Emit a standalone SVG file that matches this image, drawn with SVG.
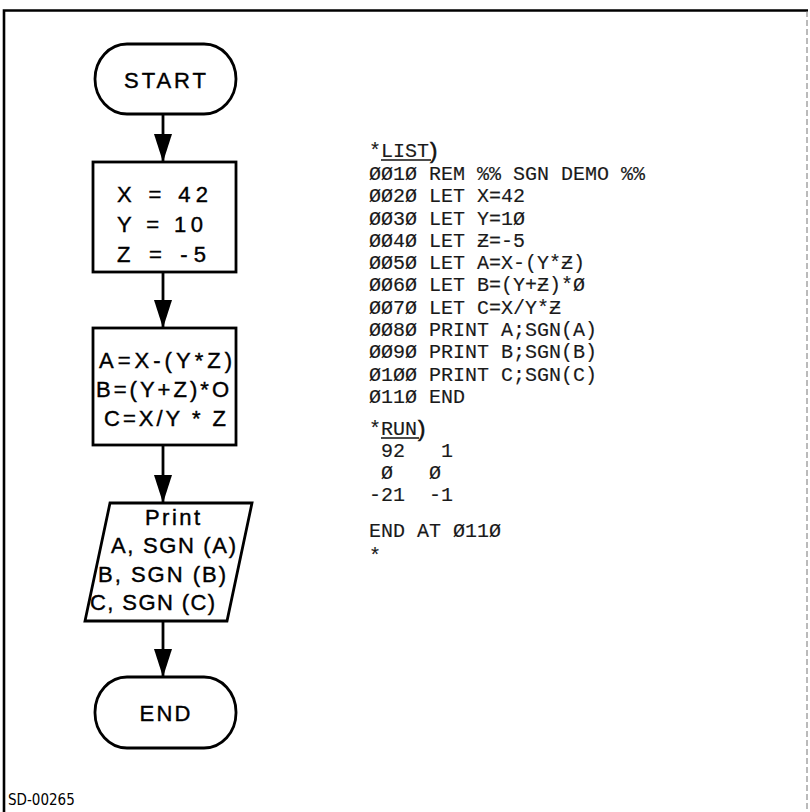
<svg xmlns="http://www.w3.org/2000/svg" width="810" height="812" viewBox="0 0 810 812">
<defs>
<marker id="ah" markerWidth="28" markerHeight="18" refX="28" refY="9" orient="auto" markerUnits="userSpaceOnUse" viewBox="0 0 28 18">
<path d="M0,0 L28,9 L0,18 Z" fill="#000"/>
</marker>
<style>
.sh{fill:#fff;stroke:#000;stroke-width:2.8}
.fl{font-family:"Liberation Sans",Arial,sans-serif;font-size:22px;fill:#000;stroke:#000;stroke-width:0.4;text-anchor:middle}
.fs{text-anchor:start}
.cd{font-family:"Liberation Mono","Courier New",monospace;font-size:20px;fill:#1a1a1a;stroke:#1a1a1a;stroke-width:0.15}
.pr{font-family:"Liberation Sans",Arial,sans-serif;font-size:22px;fill:#111;stroke:#111;stroke-width:0.6}
.cn{stroke:#000;stroke-width:2.8;fill:none}
</style>
</defs>
<rect width="810" height="812" fill="#fff"/>
<g id="frame">
<path d="M4,812 L4,10.5 L808,10.5" fill="none" stroke="#000" stroke-width="2.6"/>
<line x1="807" y1="11" x2="807" y2="812" stroke="#777" stroke-width="1" stroke-dasharray="6 3"/>
</g>
<g id="connectors">
<line class="cn" x1="163" y1="114" x2="163" y2="162" marker-end="url(#ah)"/>
<line class="cn" x1="163" y1="272" x2="163" y2="328" marker-end="url(#ah)"/>
<line class="cn" x1="163" y1="445" x2="163" y2="503" marker-end="url(#ah)"/>
<line class="cn" x1="163" y1="621" x2="163" y2="677" marker-end="url(#ah)"/>
</g>
<g id="start">
<rect class="sh" x="95" y="44" width="141" height="70" rx="32" ry="35"/>
<text class="fl" x="165" y="88" textLength="82" lengthAdjust="spacing">START</text>
</g>
<g id="assign">
<rect class="sh" x="93" y="162" width="143" height="110"/>
<text class="fl fs" x="117" y="202" textLength="91" lengthAdjust="spacing">X = 42</text>
<text class="fl fs" x="117" y="232" textLength="86" lengthAdjust="spacing">Y = 10</text>
<text class="fl fs" x="117" y="262" textLength="89" lengthAdjust="spacing">Z = -5</text>
</g>
<g id="compute">
<rect class="sh" x="93" y="328" width="143" height="117"/>
<text class="fl fs" x="99" y="368" textLength="133" lengthAdjust="spacing">A=X-(Y*Z)</text>
<text class="fl fs" x="96" y="397" textLength="133" lengthAdjust="spacing">B=(Y+Z)*O</text>
<text class="fl fs" x="104" y="426" textLength="122" lengthAdjust="spacing">C=X/Y * Z</text>
</g>
<g id="print">
<path class="sh" d="M110,503 L252,503 L227,621 L85,621 Z"/>
<text class="fl fs" x="145" y="525" textLength="55" lengthAdjust="spacing">Print</text>
<text class="fl fs" x="111" y="553" textLength="125" lengthAdjust="spacing">A, SGN (A)</text>
<text class="fl fs" x="98" y="582" textLength="128" lengthAdjust="spacing">B, SGN (B)</text>
<text class="fl fs" x="90" y="610" textLength="125" lengthAdjust="spacing">C, SGN (C)</text>
</g>
<g id="end">
<rect class="sh" x="95" y="677" width="141" height="71" rx="32" ry="35"/>
<text class="fl" x="165" y="721" textLength="51" lengthAdjust="spacing">END</text>
</g>
<g id="listing">
<text class="cd" x="369" y="157">*LIST</text>
<text class="pr" x="430" y="158">)</text>
<line x1="381" y1="160" x2="431" y2="160" stroke="#111" stroke-width="1.5"/>
<text class="cd" x="369" y="180">ØØ1Ø REM %% SGN DEMO %%</text>
<text class="cd" x="369" y="202">ØØ2Ø LET X=42</text>
<text class="cd" x="369" y="225">ØØ3Ø LET Y=1Ø</text>
<text class="cd" x="369" y="247">ØØ4Ø LET Ƶ=-5</text>
<text class="cd" x="369" y="269">ØØ5Ø LET A=X-(Y*Ƶ)</text>
<text class="cd" x="369" y="291">ØØ6Ø LET B=(Y+Ƶ)*Ø</text>
<text class="cd" x="369" y="314">ØØ7Ø LET C=X/Y*Ƶ</text>
<text class="cd" x="369" y="336">ØØ8Ø PRINT A;SGN(A)</text>
<text class="cd" x="369" y="358">ØØ9Ø PRINT B;SGN(B)</text>
<text class="cd" x="369" y="381">Ø1ØØ PRINT C;SGN(C)</text>
<text class="cd" x="369" y="403">Ø11Ø END</text>
<text class="cd" x="369" y="435">*RUN</text>
<text class="pr" x="418" y="436">)</text>
<line x1="381" y1="438" x2="419" y2="438" stroke="#111" stroke-width="1.5"/>
<text class="cd" x="369" y="457" xml:space="preserve"> 92   1</text>
<text class="cd" x="369" y="479" xml:space="preserve"> Ø   Ø</text>
<text class="cd" x="369" y="501" xml:space="preserve">-21  -1</text>
<text class="cd" x="369" y="537">END AT Ø11Ø</text>
<text class="cd" x="369" y="562">*</text>
</g>
<text x="8" y="805" font-family="DejaVu Sans Condensed, Liberation Sans, sans-serif" font-size="15" fill="#000">SD-00265</text>
</svg>
